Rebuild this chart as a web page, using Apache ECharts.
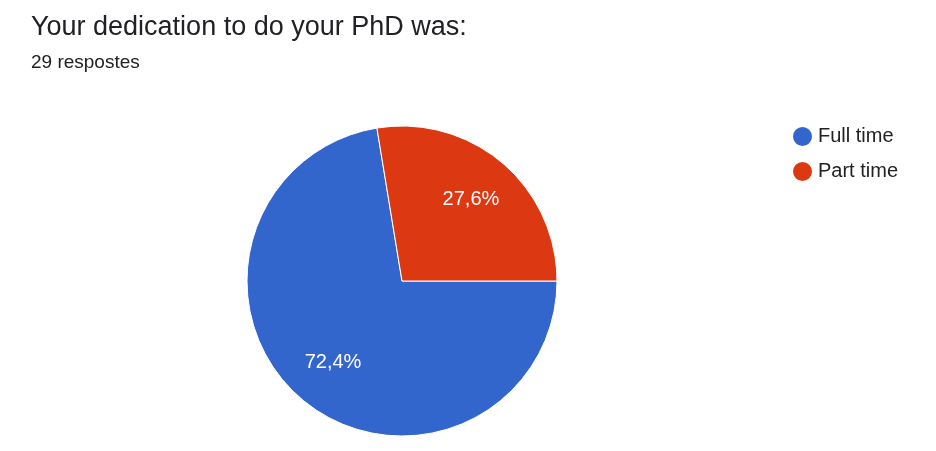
<!DOCTYPE html>
<html><head><meta charset="utf-8">
<script src="https://cdn.jsdelivr.net/npm/echarts@6/dist/echarts.min.js"></script>
<style>html,body{margin:0;padding:0;background:#fff}#c{width:936px;height:451px}</style>
</head><body><div id="c"></div>
<script>
const titleText = 'Your dedication to do your PhD was:';
const subtitleText = '29 respostes';
const categories = ['Full time', 'Part time'];
const counts = [21, 8];
const percentLabels = ['72,4%', '27,6%'];
const colors = ['#3366cc', '#dc3912'];

const FONT = '"Liberation Sans", Arial, Helvetica, sans-serif';
const chart = echarts.init(document.getElementById('c'));
const data = categories.map((n, i) => ({ name: n, value: counts[i], itemStyle: { color: colors[i] } }));
const labelData = categories.map((n, i) => ({ name: n, value: counts[i], label: { formatter: percentLabels[i] } }));
chart.setOption({
  animation: false,
  title: {
    text: titleText, subtext: subtitleText, left: 26, top: 9, itemGap: 12,
    textStyle: { fontFamily: FONT, fontSize: 27, fontWeight: 'normal', color: '#202124' },
    subtextStyle: { fontFamily: FONT, fontSize: 19, color: '#202124' }
  },
  legend: {
    orient: 'vertical', left: 786, top: 120, icon: 'circle', itemWidth: 21, itemHeight: 21, itemGap: 12,
    data: categories,
    textStyle: { fontFamily: FONT, fontSize: 20, color: '#222', lineHeight: 21 }
  },
  series: [{
    type: 'pie', center: [402, 281], radius: 155, startAngle: 0, clockwise: true,
    data: data, label: { show: false }, labelLine: { show: false },
    itemStyle: { borderColor: '#fff', borderWidth: 1 }, emphasis: { disabled: true }
  }, {
    type: 'pie', center: [402, 281], radius: [52, 155], startAngle: 0, clockwise: true, silent: true,
    data: labelData, legendHoverLink: false,
    itemStyle: { color: 'rgba(0,0,0,0)' },
    label: { show: true, position: 'inside', color: '#fff', fontFamily: FONT, fontSize: 20 },
    labelLine: { show: false }, emphasis: { disabled: true }
  }]
});
</script></body></html>
